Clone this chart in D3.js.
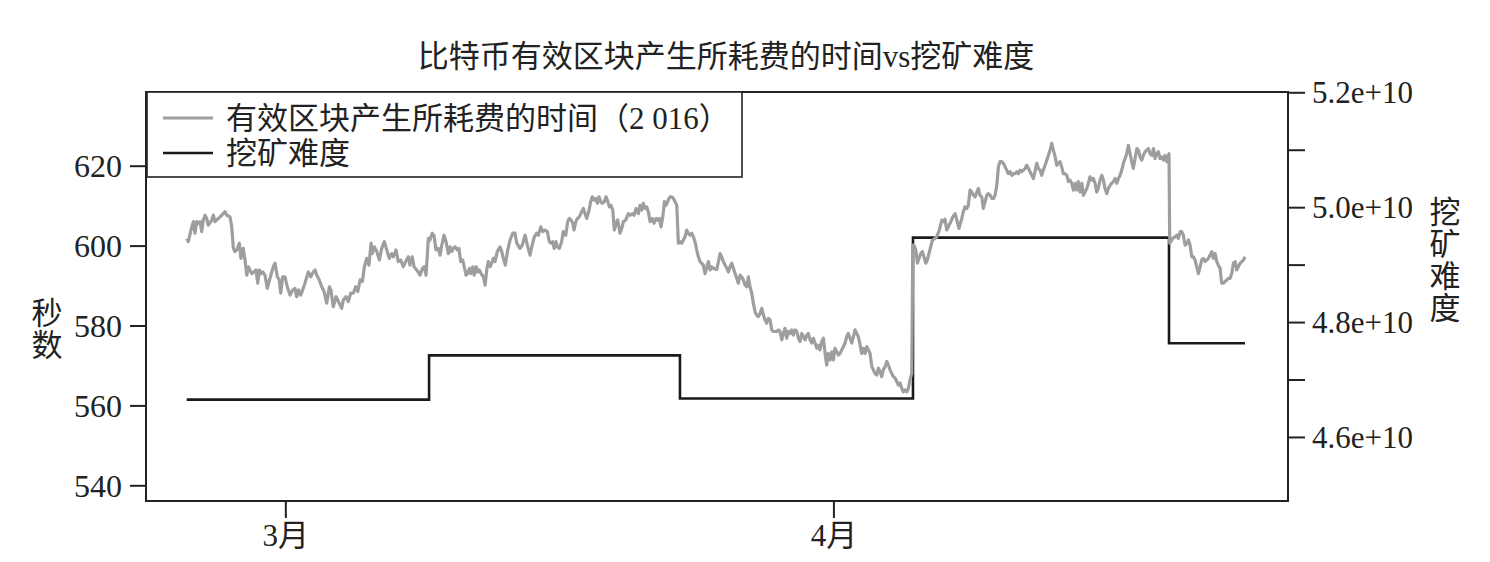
<!DOCTYPE html>
<html><head><meta charset="utf-8">
<script src="https://cdn.jsdelivr.net/npm/d3@7"></script>
<style>body{margin:0;background:#fff}</style>
</head><body><svg id="chart" width="1490" height="562"></svg>
<script>
const chartTitle = "比特币有效区块产生所耗费的时间vs挖矿难度";
const seriesNames = ["有效区块产生所耗费的时间（2 016）", "挖矿难度"];
// time given as days since 2016-03-01 00:00 UTC
const dayOffsets = [
-5.58,-5.49,-5.29,-5.20,-5.11,-5.01,-4.92,-4.82,-4.73,-4.64,
-4.54,-4.45,-4.36,-4.16,-4.07,-3.98,-3.79,-3.69,-3.51,-3.41,
-3.31,-3.13,-3.03,-2.94,-2.85,-2.75,-2.60,-2.51,-2.38,-2.28,
-2.18,-2.09,-2.00,-1.90,-1.77,-1.66,-1.56,-1.47,-1.37,-1.28,
-1.15,-1.02,-0.87,-0.68,-0.58,-0.45,-0.34,-0.26,-0.15,-0.02,
0.11,0.27,0.42,0.55,0.64,0.76,0.87,0.98,1.11,1.30,
1.44,1.58,1.68,1.78,1.92,2.06,2.19,2.34,2.49,2.58,
2.71,2.87,3.00,3.19,3.28,3.43,3.56,3.70,3.85,3.98,
4.10,4.23,4.36,4.47,4.60,4.73,4.85,4.92,5.03,5.17,
5.32,5.45,5.60,5.74,5.88,6.02,6.11,6.26,6.39,6.53,
6.67,6.81,6.96,7.05,7.18,7.28,7.43,7.62,7.75,7.86,
7.96,8.09,8.18,8.31,8.41,8.52,8.65,8.75,
8.85,8.98,9.09,9.22,9.32,9.41,9.50,9.60,9.73,9.82,
9.92,10.03,10.12,10.22,10.32,10.41,10.50,10.60,10.69,10.79,
10.88,10.97,11.07,11.20,11.30,11.39,11.48,11.58,11.67,11.76,
11.86,11.99,12.14,12.24,12.33,12.44,12.56,12.71,12.86,12.99,
13.09,13.27,13.40,13.56,13.69,13.84,13.94,14.08,14.22,14.31,
14.45,14.56,14.69,14.82,14.93,15.03,15.12,15.21,15.31,15.38,
15.50,15.63,15.72,15.86,15.97,16.06,16.16,16.26,16.33,16.43,
16.52,16.63,16.76,16.86,16.95,17.05,17.18,17.27,17.36,17.46,
17.56,17.65,17.74,17.84,17.93,18.04,18.14,18.24,18.33,18.42,
18.52,18.61,18.71,18.80,18.93,19.03,19.12,19.25,19.40,19.50,
19.63,19.72,19.84,19.97,20.06,20.16,20.25,20.35,20.44,20.53,
20.63,20.76,20.85,20.97,21.06,21.15,21.25,21.35,21.44,21.53,
21.66,21.76,21.86,21.95,22.04,22.14,22.23,22.33,22.42,22.51,
22.61,22.70,22.79,22.89,22.99,23.08,23.17,23.27,23.36,23.46,
23.64,23.74,23.84,23.93,24.02,24.12,24.21,24.40,24.59,24.68,
24.77,24.97,25.06,25.15,25.25,25.34,25.44,25.53,25.62,25.72,
25.81,25.91,26.00,26.10,26.19,26.28,26.38,26.47,26.57,26.66,
26.75,26.85,26.95,27.04,27.13,27.23,27.32,27.42,27.51,27.60,
27.70,27.80,27.89,27.98,28.08,28.17,28.26,28.36,28.45,28.55,
28.64,28.73,28.83,28.93,29.02,29.11,29.21,29.30,29.40,29.49,
29.58,29.68,29.77,29.86,29.96,30.06,30.15,30.24,30.34,30.43,
30.53,30.62,30.71,30.81,30.91,31.00,31.09,31.19,31.28,31.37,
31.47,31.56,31.66,31.75,31.84,31.94,32.04,32.13,32.22,32.32,
32.41,32.51,32.60,32.69,32.79,32.89,32.98,33.07,33.17,33.26,
33.35,33.45,33.54,33.64,33.73,33.82,33.92,34.02,34.11,34.20,
34.30,34.39,34.49,34.58,34.67,34.77,34.86,34.95,35.05,35.15,
35.24,35.33,35.43,35.49,35.56,35.66,35.75,35.84,35.94,36.03,
36.12,36.22,36.31,
36.50,36.60,36.75,36.84,36.99,37.13,37.22,37.31,37.41,37.50,
37.64,37.75,37.88,37.98,38.10,38.26,38.35,38.44,38.54,38.63,
38.73,38.82,38.91,39.01,39.11,39.20,39.29,39.39,39.48,39.58,
39.67,39.76,39.86,39.96,40.05,40.14,40.24,40.33,40.42,40.52,
40.61,40.71,40.80,40.89,40.99,41.09,41.18,41.27,41.37,41.46,
41.56,41.65,41.74,41.84,41.93,42.03,42.12,42.22,42.31,42.40,
42.50,42.59,42.69,42.78,42.87,42.97,43.07,43.16,43.25,43.35,
43.44,43.54,43.63,43.72,43.82,43.91,44.00,44.10,44.20,44.29,
44.38,44.48,44.57,44.67,44.76,44.85,44.95,45.05,45.14,45.23,
45.33,45.42,45.51,45.61,45.70,45.80,45.89,45.98,46.08,46.18,
46.27,46.36,46.46,46.55,46.65,46.74,46.83,46.93,47.03,47.12,
47.21,47.31,47.40,47.50,47.59,47.68,47.78,47.87,47.96,48.06,
48.16,48.25,48.34,48.44,48.53,48.63,48.72,48.81,48.91,49.01,
49.10,49.19,49.29,49.38,49.47,49.57,49.66,49.76,49.85,49.94,
49.98,50.02,50.08,50.19,50.32,50.42,50.51,50.61,50.70,50.79,
50.89,50.99,51.08,51.17,51.27,51.36,51.45,51.55,51.64,51.74,
51.83,51.92,52.02,52.12,52.21,52.30,52.40,52.49,52.59,52.68,
52.77,52.87,52.96,53.06,53.15,53.25,53.34,53.43,53.53,53.62,
53.72,53.81,53.90,54.00,54.10,54.19,54.28
];
const blockSeconds = [
601.8,601.0,604.7,606.0,603.1,606.0,605.6,606.0,603.5,606.4,
607.6,606.8,605.1,606.4,607.6,606.0,606.8,607.2,608.0,608.5,
607.6,607.2,604.7,599.3,598.5,598.9,600.6,596.8,599.3,596.4,
592.6,594.7,593.9,593.0,593.4,593.9,590.6,593.9,593.0,593.4,
592.6,589.3,591.8,594.7,595.6,592.2,591.4,588.1,592.2,592.2,
589.7,587.6,588.9,589.3,587.2,588.9,587.6,588.9,590.6,593.4,
592.2,593.4,593.9,592.6,591.4,589.7,588.5,585.6,589.7,588.9,
584.7,587.2,586.0,584.3,586.4,587.2,586.0,588.1,588.1,589.7,
588.5,591.4,591.0,594.7,596.8,595.1,600.6,598.0,599.7,598.5,
596.4,599.3,601.0,598.9,596.8,598.0,597.2,598.9,596.0,596.4,
594.7,596.0,597.2,595.1,597.2,594.7,593.9,592.6,594.3,594.7,
592.6,601.8,601.4,603.1,602.6,598.9,599.3,597.6,
600.1,602.6,601.0,598.0,599.7,598.5,599.3,599.7,598.9,599.3,
596.0,596.4,594.7,592.6,593.0,594.3,593.0,594.7,592.6,594.7,
593.4,593.9,593.0,592.2,590.1,593.9,596.0,594.7,595.6,596.8,
596.0,598.5,599.7,598.5,596.8,595.1,598.5,601.4,603.1,603.1,
600.6,599.3,600.1,602.6,600.1,597.6,599.7,602.2,603.1,602.6,
604.7,603.5,603.9,603.5,601.0,600.6,601.0,599.3,601.0,599.7,
599.3,601.0,603.5,602.6,606.0,606.8,606.4,605.6,603.9,606.0,
606.8,607.2,608.5,609.3,608.0,606.8,608.9,611.0,612.2,611.4,
611.8,610.6,612.2,611.0,610.6,611.0,612.2,611.0,609.7,610.1,
608.9,603.9,605.6,606.4,603.1,604.3,606.0,606.4,608.0,607.6,
608.0,607.6,609.3,608.0,610.1,608.9,610.6,609.3,609.7,608.5,
606.0,606.8,605.6,606.8,606.4,606.8,604.7,607.2,611.0,610.1,
611.4,612.2,612.2,611.8,611.0,610.1,600.6,601.0,600.6,601.4,
602.2,603.9,603.1,602.6,603.1,602.2,601.0,598.9,597.2,596.0,
595.1,593.0,594.7,596.0,593.9,594.7,594.3,594.0,598.0,597.2,
596.0,594.3,593.4,594.7,595.6,594.3,593.0,591.8,590.6,592.6,
592.2,591.4,590.1,589.7,592.2,589.7,588.1,585.6,583.4,582.6,
582.2,583.0,584.3,582.6,581.4,580.6,581.8,581.4,578.9,578.5,
578.5,578.5,578.9,578.5,576.4,578.0,579.3,576.8,578.5,578.0,
578.9,577.6,578.9,578.5,576.8,576.0,578.0,577.2,576.4,577.6,
578.0,576.4,575.6,576.8,575.6,574.3,575.1,573.9,576.0,576.8,
573.0,570.1,573.0,571.4,573.4,571.4,574.3,573.4,572.6,573.0,
573.9,574.7,575.6,577.2,578.0,576.8,575.6,577.2,578.9,578.0,
577.2,575.1,573.0,574.3,573.0,574.7,573.9,573.0,569.7,568.9,
568.0,567.6,569.3,568.5,567.2,568.9,569.7,571.0,570.1,568.9,
568.0,567.2,566.8,566.0,565.1,565.6,564.3,563.4,563.9,563.4,
564.3,566.4,568.0,600.1,600.1,598.9,595.6,596.8,598.0,598.5,
597.2,595.6,596.4,
599.7,601.4,601.8,602.2,603.9,606.4,606.0,606.6,603.9,604.7,
606.0,607.2,608.0,606.4,604.3,606.8,608.5,609.7,609.3,610.1,
613.9,613.4,612.6,612.2,613.4,614.3,612.6,612.2,609.3,611.0,
612.6,613.0,612.6,611.8,611.8,612.6,615.1,619.7,621.0,621.0,
620.6,619.7,618.9,618.0,618.5,617.6,618.0,618.0,618.5,618.0,
618.9,618.5,618.9,619.3,620.1,619.3,618.5,617.6,616.8,618.5,
620.6,619.3,618.9,617.6,618.9,620.1,621.4,622.6,623.9,625.6,
623.9,622.2,620.1,620.6,621.0,619.7,618.0,618.0,617.6,616.0,
616.4,615.6,613.9,615.6,613.9,616.0,613.4,615.6,612.6,613.4,
614.3,615.6,617.2,616.4,616.8,615.6,613.4,614.3,616.4,617.6,
616.4,614.3,613.0,614.3,615.1,615.6,616.0,616.8,615.6,616.8,
617.6,618.9,620.6,621.8,623.0,625.1,623.0,621.0,619.3,621.8,
624.3,623.9,622.2,621.4,622.6,623.5,623.9,624.3,623.0,622.6,
624.3,621.8,623.0,623.5,621.8,622.2,621.4,622.6,621.0,622.2,
623.0,600.6,601.0,601.8,602.2,602.6,601.8,603.5,603.5,602.6,
600.1,600.6,601.4,600.1,597.2,597.2,596.4,594.7,593.0,594.7,
596.4,596.8,596.0,596.4,596.8,597.6,598.5,596.8,598.0,596.0,
595.1,594.3,590.6,590.6,591.0,591.4,591.8,591.8,593.0,595.6,
596.0,593.9,594.7,595.6,596.0,596.4,597.2
];
const difficultyDays = [-5.58, 8.13, 22.32, 35.50, 49.98, 54.28];
const difficulty = [4.665e10, 4.742e10, 4.667e10, 4.947e10, 4.763e10, 4.763e10];

const leftTicks = [540, 560, 580, 600, 620];
const rightTicks = [4.6e10, 4.8e10, 5.0e10, 5.2e10];
const rightTickLabels = ["4.6e+10", "4.8e+10", "5.0e+10", "5.2e+10"];
const rightMinorTicks = [4.7e10, 4.9e10, 5.1e10];
const xTickDays = [0, 31];
const xTickLabels = ["3月", "4月"];
const leftTitleChars = ["秒", "数"];
const rightTitleChars = ["挖", "矿", "难", "度"];
const xDomainDays = [-7.88, 56.71];
const leftDomain = [536.07, 638.45];
const rightDomain = [4.4885e10, 5.2005e10];

const base = Date.UTC(2016, 2, 1);
const toDate = d => new Date(base + d * 864e5);

const W = 1490, H = 562;
const plot = {l: 146, r: 1288, t: 92, b: 501};
const serif = "'Liberation Serif','Noto Sans CJK SC',serif";
const ink = "#222";

const svg = d3.select("#chart");
svg.append("rect").attr("width", W).attr("height", H).attr("fill", "#fff");

const x = d3.scaleUtc().domain(xDomainDays.map(toDate)).range([plot.l, plot.r]);
const yL = d3.scaleLinear().domain(leftDomain).range([plot.b, plot.t]);
const yR = d3.scaleLinear().domain(rightDomain).range([plot.b, plot.t]);

// difficulty step line
const diffData = difficultyDays.map((d, i) => ({t: toDate(d), v: difficulty[i]}));
svg.append("path").datum(diffData)
  .attr("fill", "none").attr("stroke", "#1a1a1a").attr("stroke-width", 2.6)
  .attr("d", d3.line().x(d => x(d.t)).y(d => yR(d.v)).curve(d3.curveStepAfter));

// block time line
const n = Math.min(dayOffsets.length, blockSeconds.length);
const blockData = d3.range(n).map(i => ({t: toDate(dayOffsets[i]), v: blockSeconds[i]}));
svg.append("path").datum(blockData)
  .attr("fill", "none").attr("stroke", "#9e9e9e").attr("stroke-width", 3.2)
  .attr("stroke-linejoin", "round")
  .attr("d", d3.line().x(d => x(d.t)).y(d => yL(d.v)));

// frame
svg.append("rect").attr("x", plot.l).attr("y", plot.t)
  .attr("width", plot.r - plot.l).attr("height", plot.b - plot.t)
  .attr("fill", "none").attr("stroke", ink).attr("stroke-width", 2);

function styleAxis(g) {
  g.select(".domain").remove();
  g.selectAll(".tick line").attr("stroke", ink).attr("stroke-width", 2);
  g.selectAll(".tick text").attr("fill", "#222").style("font-family", serif);
}

// left axis
svg.append("g").attr("transform", `translate(${plot.l},0)`)
  .call(d3.axisLeft(yL).tickValues(leftTicks).tickSize(16).tickPadding(8))
  .call(styleAxis)
  .call(g => g.selectAll(".tick text").style("font-size", "32px").attr("dy", "0.34em"));

// right axis
svg.append("g").attr("transform", `translate(${plot.r},0)`)
  .call(d3.axisRight(yR).tickValues(rightTicks).tickSize(17).tickPadding(7)
    .tickFormat((d, i) => rightTickLabels[i]))
  .call(styleAxis)
  .call(g => g.selectAll(".tick text").style("font-size", "31px").attr("dy", "0.34em"));
svg.append("g").attr("transform", `translate(${plot.r},0)`)
  .call(d3.axisRight(yR).tickValues(rightMinorTicks).tickSize(17).tickFormat(""))
  .call(styleAxis);

// bottom axis
svg.append("g").attr("transform", `translate(0,${plot.b})`)
  .call(d3.axisBottom(x).tickValues(xTickDays.map(toDate)).tickSize(17).tickPadding(6)
    .tickFormat((d, i) => xTickLabels[i]))
  .call(styleAxis)
  .call(g => g.selectAll(".tick text").style("font-size", "31px"));

// title
svg.append("text").attr("x", 726).attr("y", 67).attr("text-anchor", "middle")
  .style("font-family", serif).style("font-size", "31px").attr("fill", "#222")
  .text(chartTitle);

// axis titles (stacked vertically)
leftTitleChars.forEach((c, i) => {
  svg.append("text").attr("x", 47).attr("y", 313 + i * 32 + 11).attr("text-anchor", "middle")
    .style("font-family", serif).style("font-size", "31px").attr("fill", "#222").text(c);
});
rightTitleChars.forEach((c, i) => {
  svg.append("text").attr("x", 1445).attr("y", 211.5 + i * 32.3 + 11).attr("text-anchor", "middle")
    .style("font-family", serif).style("font-size", "31px").attr("fill", "#222").text(c);
});

// legend
const lg = svg.append("g");
lg.append("rect").attr("x", 147).attr("y", 92).attr("width", 595).attr("height", 85)
  .attr("fill", "#fff").attr("stroke", ink).attr("stroke-width", 1.6);
const legendItems = [
  {name: seriesNames[0], color: "#9e9e9e", w: 3.2},
  {name: seriesNames[1], color: "#1a1a1a", w: 2.6}
];
legendItems.forEach((it, i) => {
  const cy = 118 + i * 35;
  lg.append("line").attr("x1", 163).attr("x2", 213).attr("y1", cy).attr("y2", cy)
    .attr("stroke", it.color).attr("stroke-width", it.w);
  lg.append("text").attr("x", 226).attr("y", cy + 11)
    .style("font-family", serif).style("font-size", "31px").attr("fill", "#222").text(it.name);
});
</script>
</body></html>
